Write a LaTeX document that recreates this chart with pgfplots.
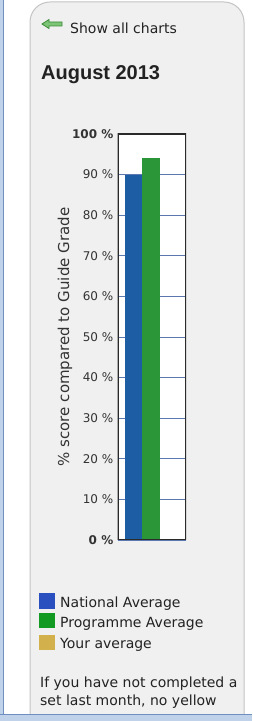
\documentclass[border=0pt]{standalone}
\usepackage{pgfplots}
\pgfplotsset{compat=1.18}
\usepackage{fontspec}
\setmainfont{DejaVu Sans}
\newfontfamily\arialfont{Liberation Sans}
\definecolor{panelfill}{HTML}{F0F0F0}
\definecolor{panelborder}{HTML}{C4C4C4}
\definecolor{winblue}{HTML}{BFD2EA}
\definecolor{winline}{HTML}{6F8FC0}
\definecolor{txt}{HTML}{222222}
\definecolor{ticktxt}{HTML}{333333}
\definecolor{gridc}{HTML}{5C78B0}
\definecolor{axc}{HTML}{2A2A2A}
\definecolor{bblue}{HTML}{1C5DA3}
\definecolor{bgreen}{HTML}{2A9638}
\definecolor{lblue}{HTML}{2A4FBF}
\definecolor{lgreen}{HTML}{139A22}
\definecolor{lgold}{HTML}{D2B04C}
\definecolor{arrowfill}{HTML}{7CC576}
\definecolor{arrowline}{HTML}{3C8A3A}
\begin{document}
\begin{tikzpicture}[x=1pt,y=1pt]
\useasboundingbox (0,0) rectangle (252,721);
\clip (0,0) rectangle (252,721);
% page background
\fill[white] (0,0) rectangle (252,721);
% window left border
\fill[winblue] (0,0) rectangle (3,721);
\draw[winline, line width=1pt] (3.5,0) -- (3.5,721);
% panel
\fill[panelfill, draw=panelborder, line width=1pt, rounded corners=20pt] (30,-30) rectangle (244,719);
% window bottom border
\fill[winblue] (0,0) rectangle (252,6);
\draw[winline, line width=1pt] (0,6) -- (252,6);
% arrow icon
\filldraw[fill=arrowfill, draw=arrowline, line width=0.8pt]
  (42,697) -- (49,701.5) -- (49,699) -- (62,699) -- (62,695) -- (49,695) -- (49,692.5) -- cycle;
\node[anchor=base west, inner sep=0pt, text=txt, font=\fontsize{14}{17}\selectfont] at (70,687) {Show all charts};
\node[anchor=base west, inner sep=0pt, text=txt, font=\arialfont\bfseries\fontsize{20}{24}\selectfont] at (41,641) {August 2013};
% y label
\node[rotate=90, inner sep=0pt, text=ticktxt, font=\fontsize{15}{18}\selectfont] at (65,384) {\% score compared to Guide Grade};
\begin{axis}[
  at={(117.5pt,181pt)}, anchor=south west,
  width=68.5pt, height=406pt, scale only axis,
  xmin=0, xmax=68.5, ymin=0, ymax=100,
  xtick=\empty,
  ytick={0,10,20,30,40,50,60,70,80,90,100},
  yticklabels={\textbf{0 \%},10 \%,20 \%,30 \%,40 \%,50 \%,60 \%,70 \%,80 \%,90 \%,\textbf{100 \%}},
  yticklabel style={font=\fontsize{12}{14}\selectfont, text=ticktxt, inner sep=0pt, xshift=-4pt},
  ymajorgrids, grid style={color=gridc, line width=0.8pt},
  major tick length=0pt,
  axis line style={draw=none},
  axis background/.style={fill=white},
  ybar, bar width=17.5pt,
]
\addplot[fill=bblue, draw=none, bar shift=0pt] coordinates {(16,90)};
\addplot[fill=bgreen, draw=none, bar shift=0pt] coordinates {(33.5,94)};
\draw[axc, line width=2.5pt] (rel axis cs:0,0) rectangle (rel axis cs:1,1);
\end{axis}
% legend
\fill[lblue] (39,112) rectangle (55,128);
\fill[lgreen] (39,93) rectangle (55,108);
\fill[lgold] (39,71) rectangle (55,86);
\node[anchor=base west, inner sep=0pt, text=txt, font=\fontsize{14}{17}\selectfont] at (60,113) {National Average};
\node[anchor=base west, inner sep=0pt, text=txt, font=\fontsize{14}{17}\selectfont] at (60,93) {Programme Average};
\node[anchor=base west, inner sep=0pt, text=txt, font=\fontsize{14}{17}\selectfont] at (60,72) {Your average};
% note text
\node[anchor=base west, inner sep=0pt, text=txt, font=\fontsize{14}{17}\selectfont] at (40,34) {If you have not completed a};
\node[anchor=base west, inner sep=0pt, text=txt, font=\fontsize{14}{17}\selectfont] at (40,16) {set last month, no yellow};
\end{tikzpicture}
\end{document}
